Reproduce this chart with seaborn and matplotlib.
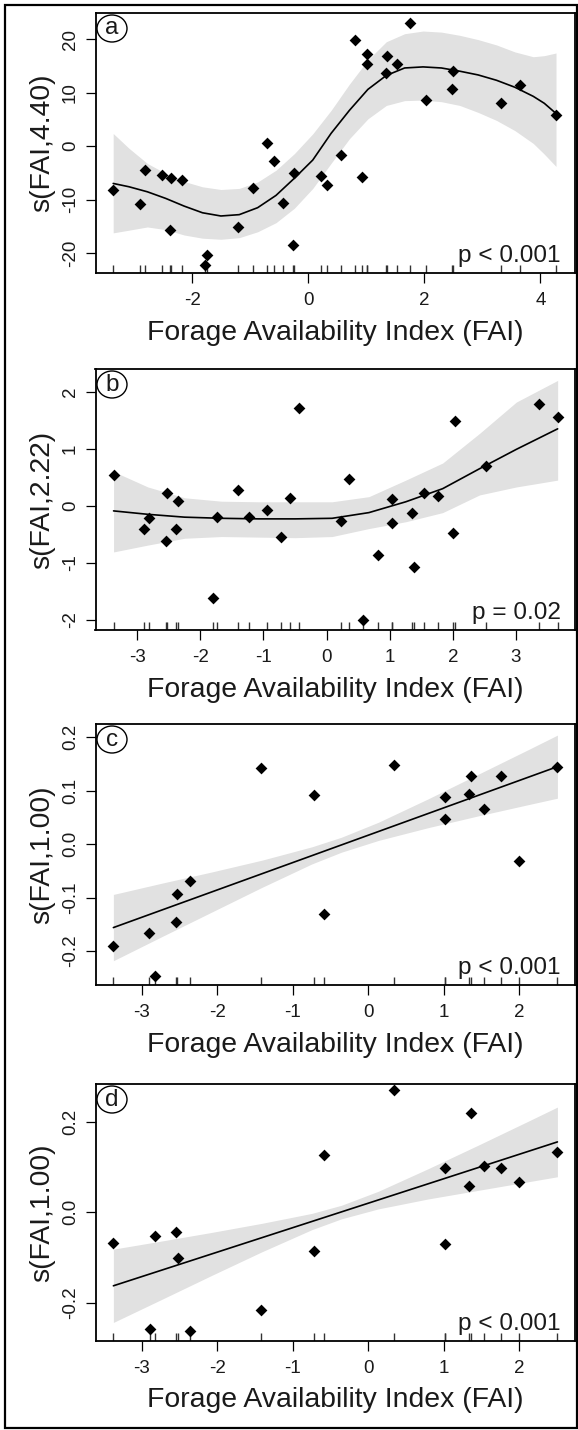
import matplotlib
matplotlib.use("Agg")
import matplotlib.pyplot as plt
import seaborn as sns
from matplotlib.patches import Ellipse, Rectangle

# ---------------- data ----------------
# Panel a: s(FAI,4.40)
a_x = [-3.36, -2.90, -2.81, -2.52, -2.36, -2.18, -2.38, -1.74, -1.78, -1.22, -0.95,
       -0.71, -0.59, -0.44, -0.27, -0.24, 0.22, 0.32, 0.57, 0.93, 0.80, 1.01, 1.01,
       1.36, 1.33, 1.52, 1.75, 2.02, 2.50, 2.48, 3.32, 3.64, 4.27]
a_y = [-8.2, -10.8, -4.5, -5.4, -5.9, -6.3, -15.7, -20.3, -22.2, -15.2, -7.9,
       0.5, -2.7, -10.6, -18.5, -5.1, -5.5, -7.3, -1.6, -5.8, 19.8, 17.3, 15.4,
       16.8, 13.6, 15.4, 23.0, 8.6, 14.0, 10.6, 8.1, 11.4, 5.8]
a_grid = [-3.363, -3.091, -2.774, -2.457, -2.141, -1.824, -1.507, -1.191, -0.874,
          -0.557, -0.241, 0.076, 0.393, 0.709, 1.026, 1.343, 1.659, 1.976, 2.293,
          2.609, 2.926, 3.243, 3.559, 3.876, 4.066, 4.268]
a_fit = [-6.97, -7.59, -8.53, -9.77, -11.2, -12.45, -13.05, -12.8, -11.5, -9.2,
         -6.0, -2.6, 2.4, 6.7, 10.6, 13.2, 14.6, 14.8, 14.6, 14.0, 13.3, 12.3,
         11.0, 9.3, 8.0, 6.1]
a_upper = [2.36, -0.4, -3.24, -5.1, -6.6, -7.6, -8.1, -7.9, -6.7, -4.5, -1.4, 2.3,
           6.7, 11.6, 16.1, 19.5, 21.0, 21.5, 21.3, 20.7, 19.9, 18.9, 17.6, 16.7,
           16.9, 17.4]
a_lower = [-16.2, -15.7, -15.1, -15.6, -16.6, -17.2, -17.4, -17.1, -16.0, -14.3,
           -11.6, -7.9, -3.2, 1.4, 5.1, 7.6, 8.5, 8.6, 8.3, 7.6, 6.3, 4.8, 2.9, 0.5,
           -1.5, -3.8]

# Panel b: s(FAI,2.22)
b_x = [-3.37, -2.89, -2.81, -2.53, -2.54, -2.36, -2.38, -1.80, -1.74, -1.41, -1.23,
       -0.95, -0.72, -0.58, -0.43, 0.23, 0.35, 0.58, 0.82, 1.04, 1.03, 1.35, 1.38,
       1.55, 1.77, 2.00, 2.04, 2.53, 3.36, 3.66]
b_y = [0.54, -0.41, -0.21, 0.23, -0.61, 0.08, -0.40, -1.62, -0.20, 0.28, -0.19,
       -0.08, -0.55, 0.14, 1.71, -0.27, 0.47, -2.01, -0.86, 0.12, -0.31, -0.12,
       -1.08, 0.23, 0.17, -0.48, 1.48, 0.69, 1.78, 1.55]
b_grid = [-3.374, -2.831, -2.248, -1.664, -1.080, -0.496, 0.088, 0.671, 1.255,
          1.839, 2.423, 3.006, 3.660]
b_fit = [-0.09, -0.15, -0.20, -0.22, -0.23, -0.23, -0.22, -0.12, 0.07, 0.30, 0.65,
         0.99, 1.35]
b_upper = [0.60, 0.33, 0.14, 0.08, 0.07, 0.07, 0.07, 0.16, 0.45, 0.75, 1.27, 1.82, 2.20]
b_lower = [-0.81, -0.69, -0.57, -0.54, -0.55, -0.56, -0.54, -0.40, -0.28, -0.12,
           0.19, 0.33, 0.45]

# Panel c: s(FAI,1.00)
c_x = [-3.375, -2.90, -2.82, -2.53, -2.55, -2.36, -1.42, -0.72, -0.59, 0.35, 1.02,
       1.02, 1.34, 1.37, 1.53, 1.76, 2.00, 2.51]
c_y = [-0.191, -0.167, -0.246, -0.094, -0.145, -0.069, 0.142, 0.092, -0.131, 0.148,
       0.088, 0.047, 0.093, 0.127, 0.066, 0.127, -0.032, 0.144]
cd_grid = [-3.375, -2.734, -2.072, -1.409, -0.746, -0.353, 0.137, 0.799, 1.462,
           2.125, 2.509]
c_line_x = [-3.375, 2.509]
c_line_y = [-0.156, 0.145]
c_upper = [-0.094, -0.073, -0.052, -0.030, -0.005, 0.013, 0.041, 0.085, 0.131, 0.177, 0.204]
c_lower = [-0.218, -0.173, -0.127, -0.081, -0.037, -0.015, 0.007, 0.031, 0.053, 0.074, 0.086]

# Panel d: s(FAI,1.00)
d_x = [-3.375, -2.89, -2.82, -2.55, -2.52, -2.36, -1.42, -0.72, -0.59, 0.35, 1.02,
       1.02, 1.34, 1.37, 1.53, 1.76, 2.00, 2.51]
d_y = [-0.069, -0.258, -0.052, -0.043, -0.102, -0.264, -0.216, -0.087, 0.127, 0.270,
       0.097, -0.071, 0.058, 0.219, 0.102, 0.097, 0.066, 0.132]
d_line_x = [-3.375, 2.509]
d_line_y = [-0.163, 0.155]
d_upper = [-0.082, -0.064, -0.045, -0.025, -0.003, 0.015, 0.046, 0.096, 0.148, 0.201, 0.232]
d_lower = [-0.244, -0.193, -0.140, -0.088, -0.039, -0.015, 0.007, 0.029, 0.048, 0.067, 0.078]

panel_letters = ["a", "b", "c", "d"]
y_labels = ["s(FAI,4.40)", "s(FAI,2.22)", "s(FAI,1.00)", "s(FAI,1.00)"]
p_labels = ["p < 0.001", "p = 0.02", "p < 0.001", "p < 0.001"]
x_label = "Forage Availability Index (FAI)"
x_ticks = [[-2, 0, 2, 4], [-3, -2, -1, 0, 1, 2, 3],
           [-3, -2, -1, 0, 1, 2], [-3, -2, -1, 0, 1, 2]]
y_ticks = [[-20, -10, 0, 10, 20], [-2, -1, 0, 1, 2],
           [-0.2, -0.1, 0.0, 0.1, 0.2], [-0.2, 0.0, 0.2]]
y_ticklabels = [["-20", "-10", "0", "10", "20"], ["-2", "-1", "0", "1", "2"],
                ["-0.2", "-0.1", "0.0", "0.1", "0.2"], ["-0.2", "0.0", "0.2"]]

# ---------------- style ----------------
sns.set_theme(style="ticks")
plt.rcParams["font.family"] = ["Liberation Sans", "DejaVu Sans"]
plt.rcParams["axes.unicode_minus"] = False

W, H = 578, 1430
fig = plt.figure(figsize=(W / 100, H / 100), dpi=100)

# axes boxes in pixels: (left, top, right, bottom)
boxes = [(95.5, 13, 575, 273), (95.5, 369, 575, 630),
         (95.5, 724, 575, 985), (95.5, 1084, 575, 1341)]
limits = [((-3.668, 4.595), (-23.7, 24.87)),
          ((-3.66, 3.935), (-2.18, 2.4)),
          ((-3.612, 2.742), (-0.2634, 0.2248)),
          ((-3.612, 2.742), (-0.285, 0.283))]

panels = [
    (a_x, a_y, a_grid, a_upper, a_lower, a_grid, a_fit),
    (b_x, b_y, b_grid, b_upper, b_lower, b_grid, b_fit),
    (c_x, c_y, cd_grid, c_upper, c_lower, c_line_x, c_line_y),
    (d_x, d_y, cd_grid, d_upper, d_lower, d_line_x, d_line_y),
]

band_color = "#e1e1e1"
text_color = "#1a1a1a"

for i, (px, py, gx, up, lo, fx, fy) in enumerate(panels):
    l, t, r, b = boxes[i]
    ax = fig.add_axes([l / W, 1 - b / H, (r - l) / W, (b - t) / H])
    ax.fill_between(gx, lo, up, color=band_color, lw=0, zorder=1)
    sns.lineplot(x=fx, y=fy, ax=ax, color="black", lw=1.2, sort=False,
                 estimator=None, zorder=3)
    sns.scatterplot(x=px, y=py, ax=ax, marker="D", s=36, color="black",
                    linewidth=0, zorder=4)
    sns.rugplot(x=px, ax=ax, height=0.03, color="#333333", lw=0.8, zorder=2)

    ax.set_xlim(*limits[i][0])
    ax.set_ylim(*limits[i][1])
    ax.set_xticks(x_ticks[i])
    ax.set_xticklabels([str(v) for v in x_ticks[i]])
    ax.set_yticks(y_ticks[i])
    ax.set_yticklabels(y_ticklabels[i], rotation=90, va="center")

    for s in ax.spines.values():
        s.set_linewidth(1.3)
        s.set_color("black")
        s.set_visible(True)
    ax.tick_params(axis="both", direction="out", length=7, width=0.9,
                   color="black", labelsize=13.5, labelcolor=text_color)
    ax.tick_params(axis="x", pad=7)
    ax.tick_params(axis="y", pad=5)

    ax.set_xlabel(x_label, fontsize=20.4, color=text_color)
    ax.set_ylabel(y_labels[i], fontsize=20.4, color=text_color)
    ax.xaxis.set_label_coords(0.5, -0.18)
    ax.yaxis.set_label_coords(-0.083, 0.5)

    ax.text(0.971, 0.042, p_labels[i], transform=ax.transAxes, ha="right",
            va="baseline", fontsize=17.6, color=text_color, zorder=5)

    aw, ah = r - l, b - t
    cx, cy = 16.5 / aw, 1 - 15.5 / ah
    ax.add_patch(Ellipse((cx, cy), 30 / aw, 27 / ah, transform=ax.transAxes,
                         facecolor="white", edgecolor="black", lw=1.0, zorder=6))
    ax.text(cx, cy, panel_letters[i], transform=ax.transAxes, ha="center",
            va="center", fontsize=17.5, color=text_color, zorder=7)

# outer frame
fig.patches.append(Rectangle((4.5 / W, 1 - 1428 / H), (577 - 4.5) / W, (1428 - 5) / H,
                             transform=fig.transFigure, fill=False, lw=1.6,
                             edgecolor="black"))

fig.savefig("out.png", dpi=100)
